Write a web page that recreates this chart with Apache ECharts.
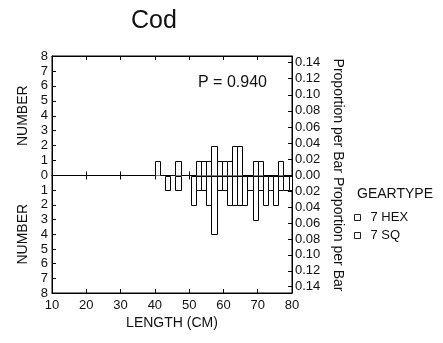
<!DOCTYPE html>
<html><head><meta charset="utf-8">
<script src="https://cdn.jsdelivr.net/npm/echarts@6/dist/echarts.min.js"></script>
<style>html,body{margin:0;padding:0;background:#fff}#c{width:443px;height:343px}</style>
</head><body><div id="c"></div>
<script>
// ---- data ----
const titleText = 'Cod';
const statText = 'P = 0.940';
const seriesNames = ['7 HEX', '7 SQ'];
const binWidth = 1.5;
const binStarts = [40,41.5,43,44.5,46,47.5,49,50.5,52,53.5,55,56.5,58,59.5,61,62.5,64,65.5,67,68.5,70,71.5,73,74.5,76,77.5,79];
const hexCounts = [1,0,0,0,1,0,0,0,1,1,1,2,1,1,1,2,2,0,0,1,1,0,0,0,1,0,0];
const sqCounts  = [0,0,1,0,1,0,0,2,1,1,2,4,1,1,2,2,2,2,1,3,1,2,1,2,1,1,1];
const xTicks = [10,20,30,40,50,60,70,80];
const countTicks = [0,1,2,3,4,5,6,7,8];
const propTicks = [0.00,0.02,0.04,0.06,0.08,0.10,0.12,0.14];
const propMax = 0.148;

const FONT = '"Liberation Sans", Arial, Helvetica, sans-serif';
const INK = '#111';

function renderBar(params, api) {
  const x0 = api.value(0), c = api.value(1);
  if (!c) return null;
  const p0 = api.coord([x0, 0]);
  const p1 = api.coord([Math.min(x0 + binWidth, xTicks[xTicks.length-1]), c]);
  const xa = Math.round(p0[0]) + 0.5, xb = Math.round(p1[0]) + 0.5;
  const ya = Math.round(p0[1]) + 0.5, yb = Math.round(p1[1]) + 0.5;
  return {
    type: 'rect',
    shape: { x: xa, y: Math.min(ya, yb), width: xb - xa, height: Math.abs(yb - ya) },
    style: { fill: '#fff', stroke: '#000', lineWidth: 1 }
  };
}

const xBase = {
  type: 'value', min: xTicks[0], max: xTicks[xTicks.length-1], interval: 10,
  axisLine: { show: true, onZero: false, lineStyle: { color: '#000', width: 1 } },
  axisTick: { show: true, inside: true, length: 4, lineStyle: { color: '#000' } },
  splitLine: { show: false },
  axisLabel: { show: false }
};
const countBase = {
  type: 'value', min: 0, max: countTicks[countTicks.length-1], interval: 1,
  axisLine: { show: true, lineStyle: { color: '#000' } },
  axisTick: { show: true, inside: true, length: 4, lineStyle: { color: '#000' } },
  splitLine: { show: false },
  axisLabel: { color: INK, fontFamily: FONT, fontSize: 13, margin: 4 },
  nameLocation: 'middle', nameRotate: 90, nameGap: 18,
  nameTextStyle: { color: INK, fontFamily: FONT, fontSize: 14 }
};
const propBase = {
  type: 'value', min: 0, max: propMax, interval: 0.02, position: 'right',
  axisLine: { show: true, lineStyle: { color: '#000' } },
  axisTick: { show: true, inside: true, length: 4, lineStyle: { color: '#000' } },
  splitLine: { show: false },
  axisLabel: {
    color: INK, fontFamily: FONT, fontSize: 13, margin: 3,
    formatter: v => {
      const hit = propTicks.find(t => Math.abs(t - v) < 1e-6);
      return hit === undefined ? '' : hit.toFixed(2);
    }
  },
  name: 'Proportion per Bar', nameLocation: 'middle', nameRotate: -90, nameGap: 39,
  nameTextStyle: { color: INK, fontFamily: FONT, fontSize: 14 }
};

const option = {
  backgroundColor: '#fff',
  animation: false,
  title: [
    { text: titleText, left: 149, top: 4, textAlign: 'center',
      textStyle: { fontFamily: FONT, fontSize: 25, fontWeight: 'normal', color: INK } },
    { text: statText, left: 193, top: 70,
      textStyle: { fontFamily: FONT, fontSize: 16, fontWeight: 'normal', color: INK } },
    { text: 'GEARTYPE', left: 352, top: 182,
      textStyle: { fontFamily: FONT, fontSize: 14, fontWeight: 'normal', color: INK } }
  ],
  legend: {
    orient: 'vertical', left: 349, top: 206, itemWidth: 6, itemHeight: 6, itemGap: 5,
    icon: 'rect', selectedMode: false,
    itemStyle: { color: '#fff', borderColor: '#222', borderWidth: 1 },
    textStyle: { color: INK, fontFamily: FONT, fontSize: 13, padding: [0,0,0,5] },
    data: seriesNames
  },
  grid: [
    { left: 52, top: 56, width: 240, height: 119.5, show: true, borderColor: '#000', borderWidth: 1 },
    { left: 52, top: 175.5, width: 240, height: 117.5, show: true, borderColor: '#000', borderWidth: 1 }
  ],
  xAxis: [
    Object.assign({}, xBase, { gridIndex: 0, position: 'bottom' }),
    Object.assign({}, xBase, { gridIndex: 0, position: 'top' }),
    Object.assign({}, xBase, { gridIndex: 1, position: 'top' }),
    Object.assign({}, xBase, { gridIndex: 1, position: 'bottom',
      axisLabel: { show: true, color: INK, fontFamily: FONT, fontSize: 13, margin: 6 },
      name: 'LENGTH (CM)', nameLocation: 'middle', nameGap: 23,
      nameTextStyle: { color: INK, fontFamily: FONT, fontSize: 14 } })
  ],
  yAxis: [
    Object.assign({}, countBase, { gridIndex: 0, position: 'left', name: 'NUMBER' }),
    Object.assign({}, propBase, { gridIndex: 0 }),
    Object.assign({}, countBase, { gridIndex: 1, position: 'left', inverse: true, name: 'NUMBER',
      axisLabel: Object.assign({}, countBase.axisLabel, { showMinLabel: false }) }),
    Object.assign({}, propBase, { gridIndex: 1, inverse: true,
      axisLabel: Object.assign({}, propBase.axisLabel, { showMinLabel: false }) })
  ],
  series: [
    { name: seriesNames[0], type: 'custom', xAxisIndex: 0, yAxisIndex: 0, clip: true,
      itemStyle: { color: '#fff', borderColor: '#000' },
      renderItem: renderBar, data: binStarts.map((b, i) => [b, hexCounts[i]]) },
    { name: seriesNames[1], type: 'custom', xAxisIndex: 3, yAxisIndex: 2, clip: true,
      itemStyle: { color: '#fff', borderColor: '#000' },
      renderItem: renderBar, data: binStarts.map((b, i) => [b, sqCounts[i]]) }
  ]
};
const chart = echarts.init(document.getElementById('c'), null, { renderer: 'canvas' });
chart.setOption(option);
</script>
</body></html>
